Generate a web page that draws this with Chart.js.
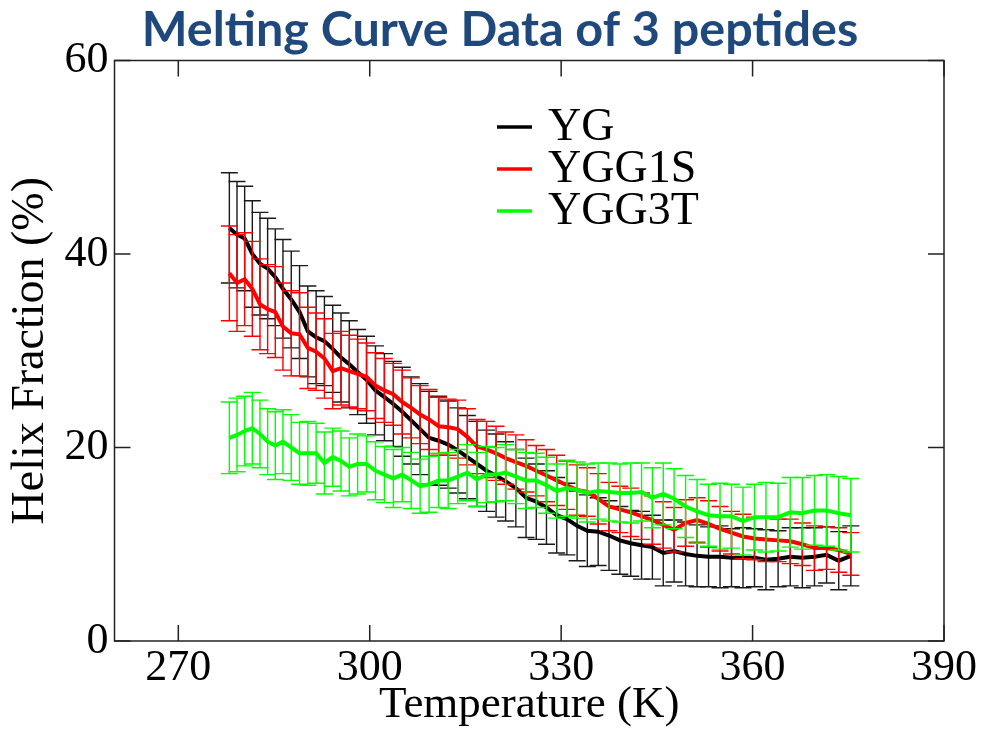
<!DOCTYPE html>
<html>
<head>
<meta charset="utf-8">
<script src="https://cdn.jsdelivr.net/npm/chart.js@4.4.1/dist/chart.umd.min.js"></script>
<style>
  html, body { margin: 0; padding: 0; background: #ffffff; }
  #wrap { width: 984px; height: 732px; }
</style>
</head>
<body>
<div id="wrap"><canvas id="c" width="984" height="732"></canvas></div>
<script>
// ---- data ----
const chartTitle = 'Melting Curve Data of 3 peptides';
const xAxisTitle = 'Temperature (K)';
const yAxisTitle = 'Helix Fraction (%)';
const seriesNames = ['YG', 'YGG1S', 'YGG3T'];
const xTickValues = [270, 300, 330, 360, 390];

const temperatures = [
  278.0, 279.2, 280.4, 281.6, 282.8, 284.0, 285.2, 286.4, 287.7, 289.0,
  290.3, 291.6, 292.9, 294.2, 295.5, 296.8, 298.1, 299.5, 300.9, 302.3,
  303.7, 305.1, 306.5, 307.9, 309.3, 310.8, 312.3, 313.8, 315.3, 316.8,
  318.3, 319.8, 321.3, 322.9, 324.5, 326.1, 327.7, 329.3, 330.9, 332.5,
  334.1, 335.8, 337.5, 339.2, 340.9, 342.6, 344.3, 346.0, 347.7, 349.5,
  351.3, 353.1, 354.9, 356.7, 358.5, 360.3, 362.1, 364.0, 365.9, 367.8,
  369.7, 371.6, 373.5, 375.4
];

const ygValues = [
  42.7, 42.0, 41.6, 40.0, 39.0, 38.5, 37.6, 36.4, 35.3, 34.0,
  32.0, 31.4, 31.0, 30.2, 29.3, 28.6, 27.8, 27.0, 25.9, 25.2,
  24.5, 23.7, 22.8, 21.9, 21.0, 20.7, 20.3, 19.7, 19.0, 18.3,
  17.6, 17.1, 16.5, 15.8, 14.8, 14.4, 13.8, 13.0, 12.6, 11.9,
  11.4, 11.3, 10.9, 10.4, 10.1, 9.9, 9.7, 9.1, 9.3, 9.0,
  8.8, 8.7, 8.7, 8.6, 8.6, 8.6, 8.4, 8.5, 8.7, 8.6,
  8.7, 8.9, 8.3, 8.8
];
const ygErrors = [
  5.7, 5.5, 5.4, 5.5, 5.3, 5.2, 5.0, 5.1, 5.0, 4.8,
  4.7, 4.8, 4.6, 4.5, 4.6, 4.5, 4.4, 4.5, 4.6, 4.5,
  4.4, 4.6, 4.5, 4.7, 4.8, 4.6, 4.5, 4.4, 4.3, 4.4,
  4.2, 4.3, 4.1, 4.0, 4.1, 3.9, 3.8, 3.9, 3.7, 3.6,
  3.7, 3.5, 3.6, 3.5, 3.4, 3.5, 3.3, 3.4, 3.2, 3.3,
  3.2, 3.1, 3.2, 3.0, 3.1, 3.0, 3.1, 2.9, 3.0, 3.1,
  3.0, 2.9, 3.0, 3.1
];

const ygg1sValues = [
  38.0, 37.0, 37.4, 36.4, 34.8, 34.3, 34.0, 32.5, 31.8, 31.7,
  30.3, 29.9, 29.2, 27.9, 28.2, 27.9, 27.6, 27.3, 26.4, 25.9,
  25.5, 24.7, 24.1, 23.4, 22.9, 22.2, 22.1, 21.9, 21.1, 20.1,
  19.8, 19.4, 18.9, 18.5, 18.1, 17.6, 17.1, 16.6, 16.1, 15.6,
  15.4, 14.7, 13.9, 13.6, 13.3, 12.9, 12.5, 12.0, 11.5, 12.2,
  12.5, 12.1, 11.6, 11.2, 10.8, 10.6, 10.5, 10.4, 10.3, 10.0,
  9.6, 9.6, 9.4, 9.0
];
const ygg1sErrors = [
  4.9, 5.0, 4.8, 4.9, 4.7, 4.6, 4.7, 4.5, 4.4, 4.3,
  4.2, 4.0, 4.1, 3.9, 3.8, 3.7, 3.6, 3.5, 3.4, 3.3,
  3.2, 3.3, 3.1, 3.0, 3.1, 3.0, 2.9, 3.0, 2.9, 2.8,
  2.9, 2.8, 2.7, 2.8, 2.7, 2.6, 2.7, 2.6, 2.5, 2.6,
  2.5, 2.6, 2.5, 2.4, 2.5, 2.4, 2.5, 2.4, 2.3, 2.4,
  2.3, 2.4, 2.3, 2.2, 2.3, 2.2, 2.3, 2.2, 2.3, 2.2,
  2.3, 2.2, 2.3, 2.2
];

const ygg3tValues = [
  21.0, 21.3, 21.7, 22.0, 21.4, 20.6, 20.2, 20.6, 20.0, 19.4,
  19.4, 19.4, 18.4, 19.0, 18.6, 18.0, 18.3, 18.3, 17.6, 17.2,
  16.8, 17.2, 16.6, 16.0, 16.2, 16.6, 16.6, 17.0, 17.4, 16.7,
  17.2, 17.2, 17.4, 17.0, 16.6, 16.6, 16.1, 15.5, 15.8, 15.6,
  15.3, 15.5, 15.4, 15.3, 15.3, 15.4, 14.8, 15.2, 14.7, 13.9,
  13.4, 13.0, 12.9, 12.9, 12.4, 12.8, 12.8, 12.8, 13.3, 13.2,
  13.5, 13.5, 13.2, 13.0
];
const ygg3tErrors = [
  3.7, 3.8, 3.6, 3.7, 3.5, 3.4, 3.5, 3.3, 3.4, 3.2,
  3.3, 3.1, 3.2, 3.0, 3.1, 3.0, 3.1, 2.9, 3.0, 2.9,
  3.0, 2.8, 2.9, 2.8, 2.9, 2.8, 2.9, 2.8, 2.9, 2.8,
  2.9, 2.8, 2.9, 2.8, 2.9, 2.8, 2.9, 2.8, 2.9, 2.9,
  3.0, 2.9, 3.0, 3.0, 3.1, 3.0, 3.1, 3.2, 3.1, 3.2,
  3.3, 3.2, 3.4, 3.3, 3.5, 3.4, 3.6, 3.5, 3.6, 3.7,
  3.6, 3.7, 3.8, 3.8
];

// ---- styling ----
const lineColors = ['#000000', '#ff0000', '#00ff00'];
const barColors  = ['#1a1a1a', '#ff0000', '#00ff00'];
const serif = '"Liberation Serif", "Times New Roman", serif';

function toPoints(vals) { return temperatures.map((t, i) => ({ x: t, y: vals[i] })); }

const seriesValues = [ygValues, ygg1sValues, ygg3tValues];
const seriesErrors = [ygErrors, ygg1sErrors, ygg3tErrors];

const datasets = seriesNames.map((name, i) => ({
  label: name,
  data: toPoints(seriesValues[i]),
  errors: seriesErrors[i],
  borderColor: lineColors[i],
  barColor: barColors[i],
  backgroundColor: lineColors[i],
  borderWidth: 4,
  pointRadius: 0,
  tension: 0,
  fill: false,
  order: 3 - i
}));

const errorBarPlugin = {
  id: 'errorBars',
  beforeDatasetDraw(chart, args) {
    const ds = chart.data.datasets[args.index];
    const xs = chart.scales.x, ys = chart.scales.y;
    const ctx = chart.ctx;
    ctx.save();
    ctx.strokeStyle = ds.barColor;
    ctx.lineWidth = 1.4;
    const cap = 8.5;
    ds.data.forEach((p, k) => {
      const e = ds.errors[k];
      const px = xs.getPixelForValue(p.x);
      const yTop = ys.getPixelForValue(p.y + e);
      const yBot = ys.getPixelForValue(p.y - e);
      ctx.beginPath();
      ctx.moveTo(px, yTop); ctx.lineTo(px, yBot);
      ctx.moveTo(px - cap, yTop); ctx.lineTo(px + cap, yTop);
      ctx.moveTo(px - cap, yBot); ctx.lineTo(px + cap, yBot);
      ctx.stroke();
    });
    ctx.restore();
  }
};

const framePlugin = {
  id: 'frameAndDecor',
  afterDraw(chart) {
    const ctx = chart.ctx;
    const a = chart.chartArea;
    const xs = chart.scales.x, ys = chart.scales.y;
    ctx.save();
    ctx.strokeStyle = '#222222';
    ctx.lineWidth = 1.5;
    ctx.strokeRect(a.left, a.top, a.right - a.left, a.bottom - a.top);
    const tl = 16;
    ctx.beginPath();
    xs.ticks.forEach(t => {
      const px = xs.getPixelForValue(t.value);
      ctx.moveTo(px, a.bottom); ctx.lineTo(px, a.bottom - tl);
      ctx.moveTo(px, a.top); ctx.lineTo(px, a.top + tl);
    });
    ys.ticks.forEach(t => {
      const py = ys.getPixelForValue(t.value);
      ctx.moveTo(a.left, py); ctx.lineTo(a.left + tl, py);
      ctx.moveTo(a.right, py); ctx.lineTo(a.right - tl, py);
    });
    ctx.stroke();

    // legend
    const lx0 = 497, lx1 = 532, tx = 548;
    const rows = [127, 169, 211];
    ctx.font = '46px ' + serif;
    ctx.textBaseline = 'middle';
    ctx.textAlign = 'left';
    chart.data.datasets.forEach((ds, i) => {
      ctx.strokeStyle = ds.borderColor;
      ctx.lineWidth = 3.5;
      ctx.beginPath();
      ctx.moveTo(lx0, rows[i]); ctx.lineTo(lx1, rows[i]);
      ctx.stroke();
      ctx.fillStyle = '#000000';
      ctx.fillText(ds.label, tx, rows[i] + 1);
    });

    // chart title
    ctx.font = 'bold 48.5px Lato, "Open Sans", sans-serif';
    ctx.fillStyle = '#1F497D';
    ctx.textAlign = 'center';
    ctx.textBaseline = 'middle';
    ctx.fillText(chartTitle, 500, 30);
    ctx.restore();
  }
};

new Chart(document.getElementById('c'), {
  type: 'line',
  data: { datasets },
  options: {
    responsive: false,
    animation: false,
    devicePixelRatio: 1,
    layout: { padding: { top: 60.5, right: 40, left: 0, bottom: 0 } },
    plugins: {
      legend: { display: false },
      title: { display: false },
      tooltip: { enabled: false }
    },
    scales: {
      x: {
        type: 'linear',
        min: 260,
        max: 390,
        afterBuildTicks(scale) { scale.ticks = xTickValues.map(v => ({ value: v })); },
        afterFit(scale) { scale.height = 91; },
        grid: { display: false, drawTicks: false },
        border: { display: false },
        ticks: {
          padding: 5,
          color: '#000000',
          font: { family: serif, size: 44, lineHeight: 1 }
        },
        title: {
          display: true,
          text: xAxisTitle,
          color: '#000000',
          font: { family: serif, size: 45, lineHeight: 1.2 },
          padding: { top: 0, bottom: 0 }
        }
      },
      y: {
        type: 'linear',
        min: 0,
        max: 60,
        afterFit(scale) { scale.width = 114.5; },
        grid: { display: false, drawTicks: false },
        border: { display: false },
        ticks: {
          stepSize: 20,
          padding: 6,
          color: '#000000',
          font: { family: serif, size: 44, lineHeight: 1 }
        },
        title: {
          display: true,
          text: yAxisTitle,
          color: '#000000',
          font: { family: serif, size: 46, lineHeight: 1.2 },
          padding: { top: 3.4, bottom: 0 }
        }
      }
    }
  },
  plugins: [errorBarPlugin, framePlugin]
});
</script>
</body>
</html>
